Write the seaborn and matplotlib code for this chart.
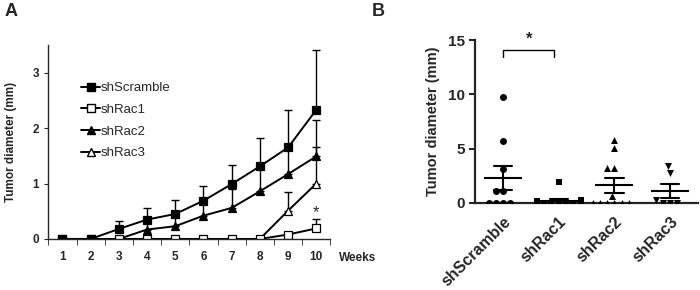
import numpy as np
import pandas as pd
import seaborn as sns
from matplotlib import pyplot as plt
from matplotlib.lines import Line2D

# ---- panel A: tumour growth over time ----
weeks = [1, 2, 3, 4, 5, 6, 7, 8, 9, 10]
scramble_mean = [0, 0, 0.18, 0.35, 0.45, 0.69, 0.99, 1.31, 1.65, 2.33]
scramble_err = [0, 0, 0.14, 0.20, 0.25, 0.27, 0.35, 0.52, 0.68, 1.07]
rac1_mean = [0, 0, 0, 0, 0, 0, 0, 0, 0.08, 0.19]
rac1_err = [0, 0, 0, 0, 0, 0, 0, 0, 0.0, 0.17]
rac2_mean = [0, 0, 0, 0.17, 0.23, 0.42, 0.56, 0.86, 1.17, 1.49]
rac2_err = [0, 0, 0, 0.15, 0.20, 0.25, 0.34, 0.45, 0.50, 0.66]
rac3_mean = [0, 0, 0, 0, 0, 0, 0, 0, 0.51, 1.0]
rac3_err = [0, 0, 0, 0, 0, 0, 0, 0, 0.33, 0.66]

# ---- panel B: tumour diameter per animal ----
groups = ['shScramble', 'shRac1', 'shRac2', 'shRac3']
scramble_pts = [0, 0, 0, 0, 1.1, 1.1, 3.1, 5.7, 9.8]
rac1_pts = [0, 0, 0, 0, 0, 0, 0, 0, 0.1, 0.2, 0.3, 1.9]
rac2_pts = [5.8, 5.1, 3.2, 3.2, 0.6, 0, 0, 0, 0, 0, 0]
rac3_pts = [3.4, 2.8, 0.3, 0, 0, 0]

sns.set_style('ticks')
plt.rcParams['font.family'] = ['Liberation Sans', 'DejaVu Sans']
plt.rcParams['axes.linewidth'] = 1.0

fig = plt.figure(figsize=(7, 2.9), dpi=100)
axA = fig.add_axes([0.069, 0.176, 0.403, 0.669])
axB = fig.add_axes([0.679, 0.30, 0.318, 0.562])

# series drawn bottom-up so shScramble sits on top
seriesA = [
    ('shRac3', rac3_mean, rac3_err, '^', 'white'),
    ('shRac2', rac2_mean, rac2_err, '^', 'black'),
    ('shRac1', rac1_mean, rac1_err, 's', 'white'),
    ('shScramble', scramble_mean, scramble_err, 's', 'black'),
]
for name, m, e, mk, fc in seriesA:
    axA.errorbar(weeks, m, yerr=[np.zeros(len(e)), e], fmt='none',
                 ecolor='black', elinewidth=1, capsize=3, capthick=1)
    sns.lineplot(x=weeks, y=m, ax=axA, color='black', lw=1.4, marker=mk,
                 markersize=5.5, markerfacecolor=fc, markeredgecolor='black',
                 markeredgewidth=0.9)

axA.set_xlim(0.5, 10.5)
axA.set_ylim(0, 3.5)
axA.set_xticks(weeks)
axA.set_xticks(np.arange(0.5, 11, 1), minor=True)
axA.set_yticks([0, 1, 2, 3])
axA.tick_params(axis='x', which='major', length=0, pad=9)
axA.tick_params(axis='x', which='minor', length=4, direction='out')
axA.tick_params(axis='y', length=3, direction='out')
for lab in axA.get_xticklabels() + axA.get_yticklabels():
    lab.set_fontweight('bold')
    lab.set_fontsize(8.5)
axA.set_ylabel('Tumor diameter (mm)', fontsize=8.5, fontweight='bold',
               labelpad=11)
sns.despine(ax=axA)
axA.text(1.03, -0.098, 'Weeks', transform=axA.transAxes, va='center',
         ha='left', fontsize=8.5, fontweight='bold')
axA.text(10, 0.47, '*', ha='center', va='center', fontsize=12)

handles = [
    Line2D([], [], color='black', lw=1.4, marker='s', markersize=5.5, mfc='black'),
    Line2D([], [], color='black', lw=1.4, marker='s', markersize=5.5, mfc='white'),
    Line2D([], [], color='black', lw=1.4, marker='^', markersize=5.5, mfc='black'),
    Line2D([], [], color='black', lw=1.4, marker='^', markersize=5.5, mfc='white'),
]
leg = axA.legend(handles, ['shScramble', 'shRac1', 'shRac2', 'shRac3'],
                 loc='upper left', bbox_to_anchor=(0.075, 0.87), frameon=False,
                 handlelength=1.4, handletextpad=0.1, labelspacing=0.72,
                 prop={'size': 9.5})

fig.text(0.006, 0.945, 'A', fontsize=13, fontweight='bold')
fig.text(0.531, 0.945, 'B', fontsize=13, fontweight='bold')

# ---- panel B ----
dfB = pd.DataFrame({
    'group': (['shScramble'] * len(scramble_pts) + ['shRac1'] * len(rac1_pts)
              + ['shRac2'] * len(rac2_pts) + ['shRac3'] * len(rac3_pts)),
    'value': scramble_pts + rac1_pts + rac2_pts + rac3_pts,
})
markersB = {'shScramble': 'o', 'shRac1': 's', 'shRac2': '^', 'shRac3': 'v'}
for g in groups:
    sub = dfB[dfB['group'] == g]
    sns.swarmplot(data=sub, x='group', y='value', order=groups, ax=axB,
                  color='black', marker=markersB[g], size=5, linewidth=0)

sns.pointplot(data=dfB, x='group', y='value', order=groups, ax=axB,
              errorbar='se', capsize=0.33, linestyle='none', marker='_',
              markersize=27, markeredgewidth=1.5, color='black',
              err_kws={'linewidth': 1.5})

axB.set_xlim(-0.5, 3.5)
axB.set_ylim(0, 15)
axB.set_yticks([0, 5, 10, 15])
axB.set_xlabel('')
axB.set_ylabel('Tumor diameter (mm)', fontsize=10.5, fontweight='bold',
               labelpad=6)
axB.tick_params(axis='x', length=0, pad=8)
axB.tick_params(axis='y', length=4, width=1.5, direction='out')
for lab in axB.get_xticklabels():
    lab.set_rotation(45)
    lab.set_ha('right')
    lab.set_rotation_mode('anchor')
    lab.set_fontweight('bold')
    lab.set_fontsize(11.5)
for lab in axB.get_yticklabels():
    lab.set_fontweight('bold')
    lab.set_fontsize(11)
for s in ['left', 'bottom']:
    axB.spines[s].set_linewidth(1.6)
sns.despine(ax=axB)

# significance bracket
axB.plot([0, 0, 0.92, 0.92], [13.4, 14.1, 14.1, 13.4], color='black', lw=1)
axB.text(0.46, 14.4, '*', ha='center', va='bottom', fontsize=12,
         fontweight='bold')
for ln in axB.lines:
    ln.set_clip_on(False)

fig.savefig('out.png', dpi=100)
